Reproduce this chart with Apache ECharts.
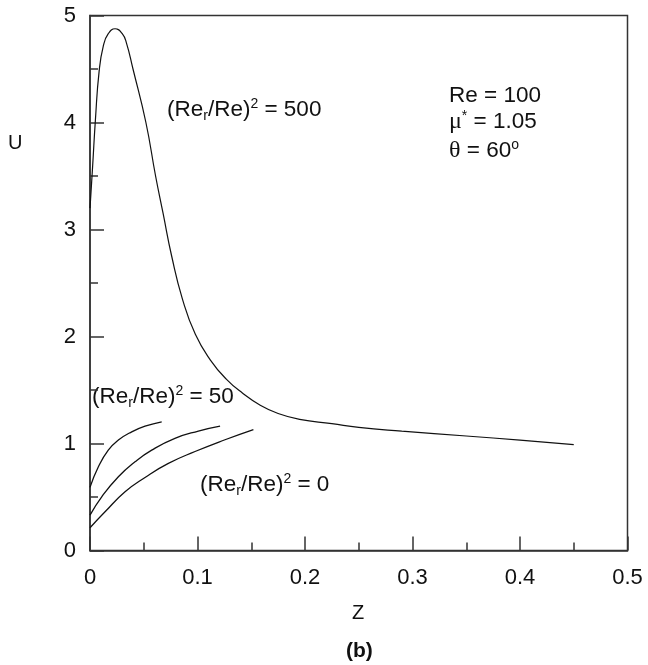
<!DOCTYPE html>
<html>
<head>
<meta charset="utf-8">
<script src="https://cdn.jsdelivr.net/npm/echarts@6/dist/echarts.min.js"></script>
<style>html,body{margin:0;padding:0;background:#fff}#c{width:648px;height:665px}</style>
</head>
<body>
<div id="c"></div>
<script>
// ---- data ----
const xTicks = [0, 0.1, 0.2, 0.3, 0.4, 0.5];
const yTicks = [0, 1, 2, 3, 4, 5];

// (Re_r/Re)^2 = 500
const z500 = [0, 0.0025, 0.005, 0.0085, 0.0125, 0.017, 0.0233, 0.030, 0.034, 0.040, 0.052, 0.061, 0.068, 0.076, 0.086, 0.098, 0.112, 0.127, 0.142, 0.158, 0.175, 0.195, 0.225, 0.25, 0.29, 0.35, 0.40, 0.45];
const u500 = [3.2, 3.6, 4.02, 4.48, 4.72, 4.83, 4.876, 4.83, 4.74, 4.5, 4.0, 3.5, 3.15, 2.75, 2.35, 2.02, 1.78, 1.6, 1.47, 1.36, 1.28, 1.225, 1.185, 1.15, 1.115, 1.07, 1.032, 0.99];

// (Re_r/Re)^2 = 50
const z50 = [0, 0.0078, 0.017, 0.0264, 0.0388, 0.0512, 0.0667];
const u50 = [0.59, 0.782, 0.938, 1.032, 1.109, 1.162, 1.203];

// intermediate curve
const zMid = [0, 0.0109, 0.0264, 0.0419, 0.0574, 0.079, 0.1008, 0.121];
const uMid = [0.331, 0.502, 0.689, 0.829, 0.938, 1.048, 1.116, 1.162];

// (Re_r/Re)^2 = 0
const z0 = [0, 0.014, 0.0326, 0.0512, 0.0729, 0.0977, 0.1256, 0.152];
const u0 = [0.213, 0.362, 0.549, 0.683, 0.814, 0.925, 1.035, 1.13];

const pairs = (zs, us) => zs.map((z, i) => [z, us[i]]);

const FONT = 'Liberation Sans, Arial, sans-serif';
const INK = '#111';
const AX = '#333';

const rich = {
  m: {fontSize: 22.5, fontFamily: FONT, color: INK, lineHeight: 26},
  sub: {fontSize: 14, fontFamily: FONT, color: INK, verticalAlign: 'bottom', lineHeight: 13},
  sup: {fontSize: 14, fontFamily: FONT, color: INK, verticalAlign: 'top', lineHeight: 13},
  g: {fontSize: 24, fontFamily: 'Liberation Serif, serif', color: INK, lineHeight: 26}
};
const reLabel = v => '{m|(Re}{sub|r}{m|/Re)}{sup|2}{m| = ' + v + '}';

function txt(left, top, text) {
  return {type: 'text', left: left, top: top,
    style: {text: text, rich: rich, fill: INK, font: '22px ' + FONT}};
}

const lineSeries = (zs, us, w) => ({
  type: 'line', data: pairs(zs, us), smooth: true,
  showSymbol: false, lineStyle: {color: INK, width: w}
});

const chart = echarts.init(document.getElementById('c'), null, {renderer: 'canvas'});
chart.setOption({
  backgroundColor: '#fff',
  animation: false,
  grid: {left: 90, right: 20.5, top: 15.5, bottom: 114.5, show: true, borderColor: AX, borderWidth: 1.5, backgroundColor: 'transparent'},
  xAxis: {
    type: 'value', min: xTicks[0], max: xTicks[xTicks.length - 1], interval: 0.1,
    axisLine: {show: true, lineStyle: {color: AX, width: 1.5}},
    axisTick: {show: true, inside: true, length: 14, lineStyle: {color: AX, width: 1.5}},
    minorTick: {show: true, splitNumber: 2, length: 8, lineStyle: {color: AX, width: 1.5}},
    splitLine: {show: false},
    axisLabel: {fontSize: 22, fontFamily: FONT, color: INK, margin: 16}
  },
  yAxis: {
    type: 'value', min: yTicks[0], max: yTicks[yTicks.length - 1], interval: 1,
    axisLine: {show: true, lineStyle: {color: AX, width: 1.5}},
    axisTick: {show: true, inside: true, length: 14, lineStyle: {color: AX, width: 1.5}},
    minorTick: {show: true, splitNumber: 2, length: 8, lineStyle: {color: AX, width: 1.5}},
    splitLine: {show: false},
    axisLabel: {fontSize: 22, fontFamily: FONT, color: INK, margin: 14}
  },
  series: [
    lineSeries(z500, u500, 1.2),
    lineSeries(z50, u50, 1.3),
    lineSeries(zMid, uMid, 1.3),
    lineSeries(z0, u0, 1.3)
  ],
  graphic: [
    {type: 'text', left: 8, top: 133, style: {text: 'U', font: '20px ' + FONT, fill: INK}},
    {type: 'text', left: 352, top: 603, style: {text: 'Z', font: '20px ' + FONT, fill: INK}},
    {type: 'text', left: 346, top: 641, style: {text: '(b)', font: 'bold 21px ' + FONT, fill: INK}},
    txt(167, 97, reLabel('500')),
    txt(92, 384, reLabel('50')),
    txt(200, 472, reLabel('0')),
    txt(449, 84, '{m|Re = 100}'),
    txt(449, 109, '{g|μ}{sup|*}{m| = 1.05}'),
    txt(449, 138, '{g|θ}{m| = 60}{sup|o}')
  ]
});
</script>
</body>
</html>
